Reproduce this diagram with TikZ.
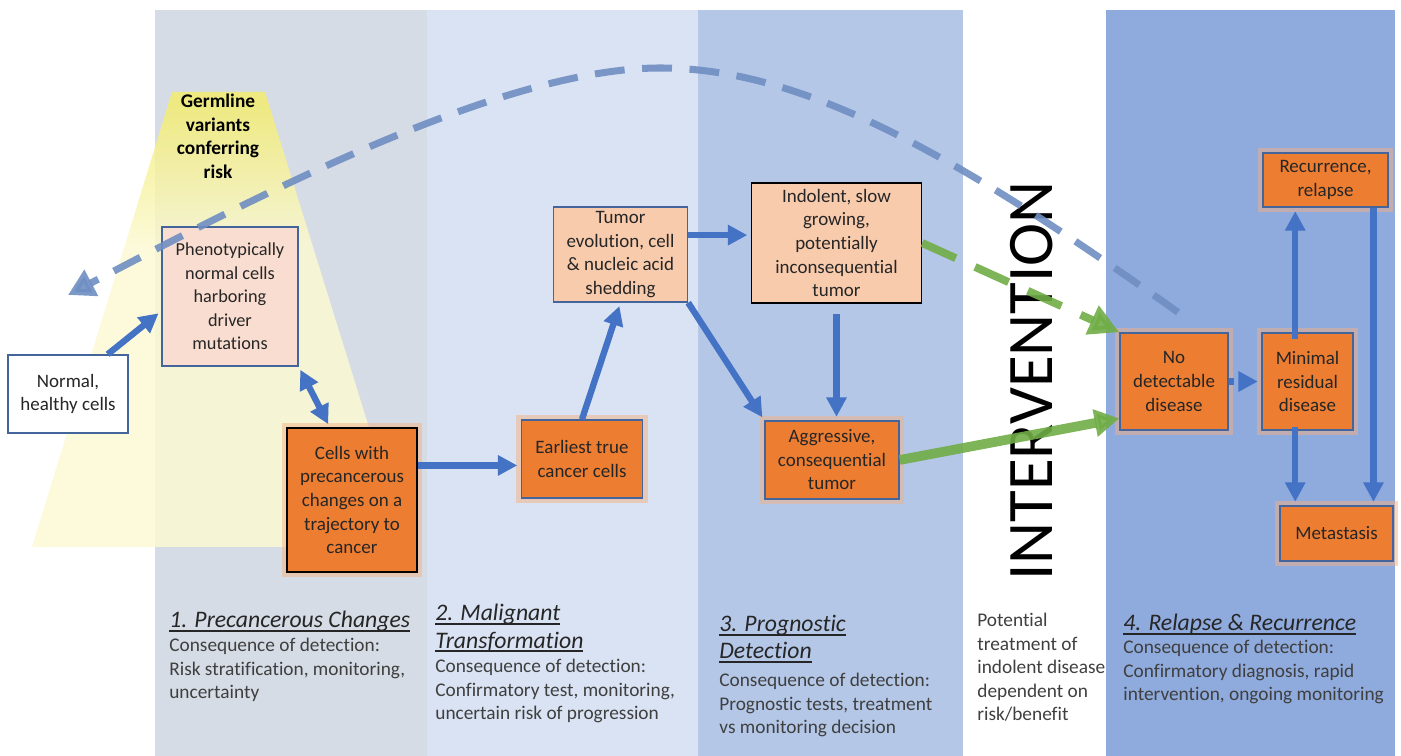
\documentclass[tikz,border=0pt]{standalone}
\usepackage{fontspec}
\setmainfont{Carlito}[Ligatures=NoCommon]
\usetikzlibrary{calc}
\usetikzlibrary{arrows.meta}
\definecolor{bandA}{HTML}{D6DCE5}
\definecolor{bandB}{HTML}{DAE3F3}
\definecolor{bandC}{HTML}{B4C7E7}
\definecolor{bandD}{HTML}{8FAADC}
\definecolor{yelTop}{HTML}{F3EC6F}
\definecolor{yelLow}{HTML}{FBF9D3}
\definecolor{cellOrange}{HTML}{ED7D31}
\definecolor{cellPeach}{HTML}{F8CBAD}
\definecolor{cellPale}{HTML}{F9DDD0}
\definecolor{cellGlow}{HTML}{F4B183}
\definecolor{edgeBlue}{HTML}{44649C}
\definecolor{flowBlue}{HTML}{4472C4}
\definecolor{loopBlue}{HTML}{6F8EC2}
\definecolor{flowGreen}{HTML}{70AD47}
\definecolor{inkDark}{HTML}{262626}
\definecolor{inkGray}{HTML}{3F3F3F}
\pgfdeclareverticalshading{germshade}{100bp}{color(0bp)=(yelLow); color(58bp)=(yelLow); color(74bp)=(yelTop); color(100bp)=(yelTop)}
\newsavebox{\headbox}
\newcommand{\headrule}[1]{\sbox{\headbox}{#1}\rlap{\rule[-2.2pt]{\wd\headbox}{0.9pt}}\usebox{\headbox}}
\newcommand{\headfont}{\fontsize{13.5}{15.5}\itshape\selectfont}
\newcommand{\notefont}{\fontsize{11}{13.4}\selectfont}
\newcommand{\tipsize}{Triangle[length=11pt,width=11pt]}
\tikzset{
    cell/.style={draw=edgeBlue, line width=0.8pt, align=center, inner sep=0pt, text=inkDark, font=\fontsize{10.8}{13.4}\selectfont},
    palecell/.style={cell, fill=cellPale, font=\fontsize{10.4}{13.4}\selectfont},
    peachcell/.style={cell, fill=cellPeach},
    hotcell/.style={cell, fill=cellOrange, preaction={draw=cellGlow, line width=6pt, draw opacity=0.5}},
    flow/.style={draw=flowBlue, line width=3.6pt, -{\tipsize}, shorten >=2pt},
    dotflow/.style={flow, dash pattern=on 3pt off 3pt},
    greenflow/.style={draw=flowGreen, line width=5.5pt, -{Triangle[length=14pt,width=15pt]}, opacity=0.9},
    greendash/.style={draw=flowGreen, line width=4.5pt, dash pattern=on 21pt off 12pt, -{Triangle[length=17pt,width=17pt]}, opacity=0.9},
    returnpath/.style={draw=loopBlue, line width=4pt, dash pattern=on 17pt off 10pt, -{Triangle[length=15pt,width=16pt]}, opacity=0.9},
    notehead/.style={anchor=north west, align=left, inner sep=0pt, text=inkDark, font=\headfont},
    notebody/.style={anchor=north west, align=left, inner sep=0pt, text=inkGray, font=\notefont}
}

\begin{document}
\begin{tikzpicture}[x=0.02cm, y=-0.02cm]
        \useasboundingbox (0,0) rectangle (1401,756);
        \fill[bandA] (155,10) rectangle (427,756);
        \fill[bandB] (427,10) rectangle (698,756);
        \fill[bandC] (698,10) rectangle (963,756);
        \fill[bandD] (1106,10) rectangle (1395,756);
        \shade[shading=germshade, opacity=0.85] (172,92) -- (265,92) -- (406,547) -- (32,547) -- cycle;
        \node[rotate=90, inner sep=0pt, font=\fontsize{37}{40}\selectfont, text=black] (intervene) at (1032,381) {INTERVENTION};
        \node[anchor=north, align=center, inner sep=0pt, text=black, font=\bfseries\fontsize{11}{13.4}\selectfont] (germline) at (218,94) {Germline\\variants\\conferring\\risk};
        \node[notehead] (headA) at (169,611) {\headrule{1. Precancerous Changes}};
        \node[notebody] (bodyA) at (169,638) {Consequence of detection:\\Risk stratification, monitoring,\\uncertainty};
        \node[notehead] (headB) at (435,604) {\headrule{2. Malignant}\\\headrule{Transformation}};
        \node[notebody] (bodyB) at (435,659) {Consequence of detection:\\Confirmatory test, monitoring,\\uncertain risk of progression};
        \node[notehead] (headC) at (719,615) {\headrule{3. Prognostic}\\\headrule{Detection}};
        \node[notebody] (bodyC) at (719,673) {Consequence of detection:\\Prognostic tests, treatment\\vs monitoring decision};
        \node[notebody] (bodyI) at (977,613) {Potential\\treatment of\\indolent disease\\dependent on\\risk/benefit};
        \node[notehead] (headD) at (1123,614) {\headrule{4. Relapse \& Recurrence}};
        \node[notebody] (bodyD) at (1123,640) {Consequence of detection:\\Confirmatory diagnosis, rapid\\intervention, ongoing monitoring};
        \node[cell, fill=white, minimum width=2.4cm, minimum height=1.56cm] (normal) at (68,394) {Normal,\\healthy cells};
        \node[palecell, minimum width=2.72cm, minimum height=2.78cm] (pheno) at (230,296.5) {Phenotypically\\normal cells\\harboring\\driver\\mutations};
        \node[hotcell, draw=black, minimum width=2.6cm, minimum height=2.88cm] (precancer) at (352,500) {Cells with\\precancerous\\changes on a\\trajectory to\\cancer};
        \node[hotcell, minimum width=2.42cm, minimum height=1.56cm] (earliest) at (582,459) {Earliest true\\cancer cells};
        \node[peachcell, minimum width=2.68cm, minimum height=1.9cm] (tumorevo) at (620.5,254.5) {Tumor\\evolution, cell\\\& nucleic acid\\shedding};
        \node[peachcell, draw=black, minimum width=3.4cm, minimum height=2.4cm] (indolent) at (836.5,243) {Indolent, slow\\growing,\\potentially\\inconsequential\\tumor};
        \node[hotcell, minimum width=2.68cm, minimum height=1.56cm] (aggressive) at (832,460) {Aggressive,\\consequential\\tumor};
        \node[hotcell, minimum width=2.16cm, minimum height=1.94cm] (nodisease) at (1174,381.5) {No\\detectable\\disease};
        \node[hotcell, minimum width=1.82cm, minimum height=1.94cm] (residual) at (1307.5,381.5) {Minimal\\residual\\disease};
        \node[hotcell, minimum width=2.5cm, minimum height=1.08cm] (recurrence) at (1325.5,180) {Recurrence,\\relapse};
        \node[hotcell, minimum width=2.26cm, minimum height=1.1cm] (metastasis) at (1336.5,533.5) {Metastasis};
        \draw[flow] (normal.45) -- (pheno.192);
        \draw[flow, {\tipsize}-{\tipsize}, shorten <=2pt] (pheno.south east) -- (precancer.107);
        \draw[flow] (precancer.east |- earliest.186) -- (earliest.186);
        \draw[flow] (earliest.north) -- (tumorevo.south);
        \draw[flow] (tumorevo.16) -- (tumorevo.16 -| indolent.west);
        \draw[flow] (tumorevo.south east) -- (aggressive.north west);
        \draw[flow, shorten <=6pt] (indolent.south) -- (indolent.south |- aggressive.north);
        \draw[greendash] (indolent.east) -- (nodisease.north west);
        \draw[greenflow] (aggressive.east) -- (nodisease.214);
        \draw[dotflow] (nodisease.east) -- (residual.west);
        \draw[flow, shorten <=-4pt] (residual.104) -- (residual.104 |- recurrence.south);
        \draw[flow, shorten <=-2pt] (residual.256) -- (residual.256 |- metastasis.north);
        \draw[flow] (recurrence.-30) -- (recurrence.-30 |- metastasis.north);
        \coordinate (loopend) at (68,295);
        \draw[returnpath] ($(nodisease.north)+(4,-20)$) .. controls (950,150) and (800,68) .. (660,68) .. controls (500,68) and (250,200) .. (loopend);
\end{tikzpicture}
\end{document}
